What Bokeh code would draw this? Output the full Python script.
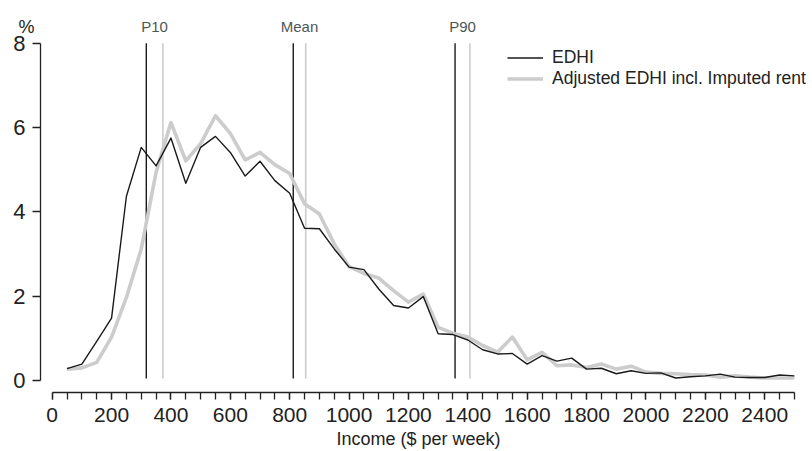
from bokeh.plotting import figure
from bokeh.models import Range1d, FixedTicker, Legend, LegendItem, LinearAxis
from bokeh.core.properties import value
from bokeh.embed import file_html
from bokeh.resources import INLINE

income = [50, 100, 150, 200, 250, 300, 350, 400, 450, 500,
          550, 600, 650, 700, 750, 800, 850, 900, 950, 1000,
          1050, 1100, 1150, 1200, 1250, 1300, 1350, 1400, 1450, 1500,
          1550, 1600, 1650, 1700, 1750, 1800, 1850, 1900, 1950, 2000,
          2050, 2100, 2150, 2200, 2250, 2300, 2350, 2400, 2450, 2500]

edhi = [0.28, 0.39, 0.93, 1.48, 4.37, 5.53, 5.09, 5.75, 4.68, 5.53,
        5.79, 5.41, 4.85, 5.20, 4.74, 4.44, 3.61, 3.60, 3.12, 2.69,
        2.63, 2.17, 1.78, 1.72, 1.99, 1.11, 1.09, 0.96, 0.73, 0.63,
        0.64, 0.39, 0.59, 0.46, 0.53, 0.27, 0.29, 0.16, 0.23, 0.17,
        0.18, 0.06, 0.09, 0.11, 0.15, 0.08, 0.07, 0.07, 0.13, 0.11]

adjusted = [0.27, 0.30, 0.43, 1.03, 1.97, 3.12, 4.94, 6.12, 5.21, 5.62,
            6.28, 5.86, 5.23, 5.41, 5.12, 4.91, 4.19, 3.95, 3.24, 2.70,
            2.54, 2.43, 2.13, 1.86, 2.05, 1.26, 1.12, 1.03, 0.83, 0.67,
            1.03, 0.49, 0.67, 0.35, 0.37, 0.31, 0.39, 0.27, 0.34, 0.20,
            0.17, 0.16, 0.14, 0.13, 0.08, 0.11, 0.08, 0.06, 0.06, 0.06]

marker_names = ["P10", "Mean", "P90"]
edhi_markers = [317, 812, 1357]
adjusted_markers = [373, 854, 1407]

x_ticks = [0, 200, 400, 600, 800, 1000, 1200, 1400, 1600, 1800, 2000, 2200, 2400]
x_minor_ticks = [0, 50, 100, 150, 200, 250, 300, 350, 400, 450, 500, 550, 600, 650,
                 700, 750, 800, 850, 900, 950, 1000, 1050, 1100, 1150, 1200, 1250,
                 1300, 1350, 1400, 1450, 1500, 1550, 1600, 1650, 1700, 1750, 1800,
                 1850, 1900, 1950, 2000, 2050, 2100, 2150, 2200, 2250, 2300, 2350,
                 2400, 2450, 2500]
y_ticks = [0, 2, 4, 6, 8]
y_unit = "%"
x_title = "Income ($ per week)"

FONT = "Liberation Sans"
INK = "#222222"
LABEL_INK = "#4d5656"
GREY = "#cccccc"

# frame covers the whole canvas; axes are pinned at fixed data locations
X_START, X_END = -174.1, 2547.5
Y_START, Y_END = -1.684, 9.013
Y_AXIS_AT = -39.4
X_AXIS_AT = -0.2846
TOP_TEXT_Y = 8.385
X_TITLE_AT = 1234

p = figure(width=812, height=451, output_backend="svg", toolbar_location=None,
           x_range=Range1d(X_START, X_END), y_range=Range1d(Y_START, Y_END),
           min_border_left=0, min_border_right=4, min_border_top=0,
           min_border_bottom=0)
p.outline_line_color = None
p.grid.visible = False
p.background_fill_color = "white"
p.border_fill_color = "white"

# marker lines
p.segment(x0=adjusted_markers, y0=0.05, x1=adjusted_markers, y1=8,
          line_color=GREY, line_width=1.6)
p.segment(x0=edhi_markers, y0=0.05, x1=edhi_markers, y1=8,
          line_color="#1a1a1a", line_width=1.4)
mid = [(a + b) / 2 for a, b in zip(edhi_markers, adjusted_markers)]
p.text(x=mid, y=TOP_TEXT_Y, text=marker_names, text_align="center",
       text_baseline="alphabetic", text_font=value(FONT), text_font_size="15px",
       text_color=LABEL_INK)

# unit label above the y axis
p.text(x=[Y_AXIS_AT - 47.2], y=[TOP_TEXT_Y], text=[y_unit], text_align="center",
       text_baseline="alphabetic", text_font=value(FONT), text_font_size="18px",
       text_color=INK)

r_adj = p.line(income, adjusted, line_color=GREY, line_width=3.6, line_join="round")
r_edhi = p.line(income, edhi, line_color="#1a1a1a", line_width=1.4, line_join="round")

# x axis
xa = p.xaxis[0]
xa.fixed_location = X_AXIS_AT
xa.ticker = FixedTicker(ticks=x_ticks, minor_ticks=x_minor_ticks)
xa.bounds = (0, 2500)
xa.axis_line_color = INK
xa.axis_line_width = 1.3
xa.major_tick_line_color = INK
xa.minor_tick_line_color = INK
xa.major_tick_line_width = 1.3
xa.minor_tick_line_width = 1.3
xa.major_tick_in = 0
xa.major_tick_out = 7
xa.minor_tick_in = 0
xa.minor_tick_out = 7
xa.major_label_text_font = FONT
xa.major_label_text_font_size = "21px"
xa.major_label_text_color = INK
xa.major_label_standoff = 9

# x axis title, centred on the 0-2500 axis span (label-only axis)
title_axis = LinearAxis(fixed_location=X_AXIS_AT,
                        ticker=FixedTicker(ticks=[X_TITLE_AT], minor_ticks=[]),
                        major_label_overrides={X_TITLE_AT: x_title},
                        axis_line_color=None, major_tick_line_color=None,
                        minor_tick_line_color=None, major_tick_in=0, major_tick_out=0,
                        minor_tick_in=0, minor_tick_out=0,
                        major_label_standoff=37,
                        major_label_text_font=FONT, major_label_text_font_size="18px",
                        major_label_text_color=INK)
p.add_layout(title_axis, "below")

# y axis
ya = p.yaxis[0]
ya.fixed_location = Y_AXIS_AT
ya.ticker = FixedTicker(ticks=y_ticks, minor_ticks=[])
ya.bounds = (0, 8)
ya.axis_line_color = INK
ya.axis_line_width = 1.3
ya.major_tick_line_color = INK
ya.major_tick_line_width = 1.3
ya.major_tick_in = 0
ya.major_tick_out = 8
ya.minor_tick_out = 0
ya.minor_tick_in = 0
ya.major_label_text_font = FONT
ya.major_label_text_font_size = "22px"
ya.major_label_text_color = INK
ya.major_label_standoff = 7

legend = Legend(items=[LegendItem(label="EDHI", renderers=[r_edhi]),
                       LegendItem(label="Adjusted EDHI incl. Imputed rent", renderers=[r_adj])],
                location=(507, 362), padding=0, spacing=0, margin=0,
                glyph_width=36, glyph_height=21, label_height=21, label_standoff=9,
                border_line_color=None, background_fill_alpha=0,
                label_text_font=FONT, label_text_font_size="17.5px",
                label_text_color=INK)
p.add_layout(legend)

open("out.html", "w").write(file_html(p, INLINE))
